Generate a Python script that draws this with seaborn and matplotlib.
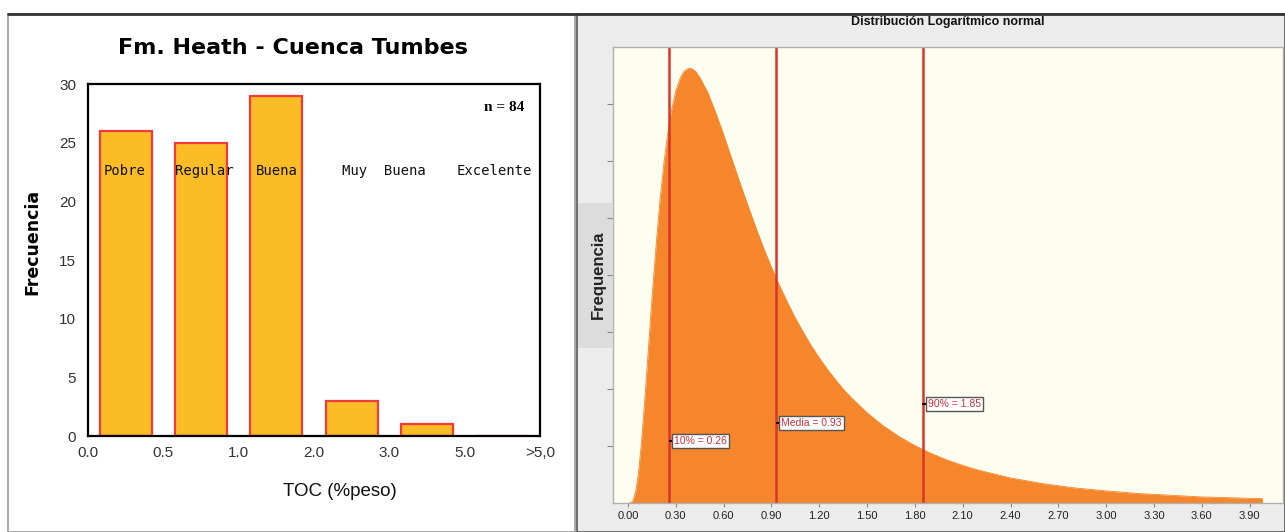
import numpy as np
import pandas as pd
import seaborn as sns
import matplotlib.pyplot as plt
from matplotlib.patches import Rectangle

# --- datos del histograma de TOC (Fm. Heath) ---
toc_bins = ["0.0-0.5", "0.5-1.0", "1.0-2.0", "2.0-3.0", "3.0-5.0", ">5.0"]
toc_freq = [26, 25, 29, 3, 1, 0]
edge_labels = ["0.0", "0.5", "1.0", "2.0", "3.0", "5.0", ">5,0"]
clases = ["Pobre", "Regular", "Buena", "Muy  Buena", "Excelente"]
n_muestras = 84

# --- curva logaritmico normal (frecuencia relativa) ---
logn_x = [0.01, 0.03, 0.05, 0.065, 0.08, 0.09, 0.10, 0.115, 0.13, 0.145, 0.16,
          0.18, 0.20, 0.225, 0.25, 0.27, 0.30, 0.33, 0.35, 0.375, 0.40, 0.425,
          0.45, 0.50, 0.55, 0.60, 0.65, 0.70, 0.75, 0.80, 0.85, 0.90, 0.95,
          1.00, 1.05, 1.10, 1.15, 1.20, 1.25, 1.30, 1.35, 1.40, 1.50, 1.60,
          1.70, 1.80, 1.90, 2.00, 2.10, 2.20, 2.30, 2.40, 2.60, 2.80, 3.00,
          3.20, 3.40, 3.60, 3.80, 3.98]
logn_y = [0.0, 0.004, 0.029, 0.068, 0.122, 0.166, 0.213, 0.289, 0.367, 0.446,
          0.520, 0.613, 0.698, 0.786, 0.858, 0.904, 0.955, 0.986, 0.999, 1.006,
          1.006, 0.999, 0.986, 0.951, 0.904, 0.853, 0.798, 0.744, 0.691, 0.640,
          0.591, 0.546, 0.504, 0.465, 0.428, 0.395, 0.364, 0.336, 0.310, 0.286,
          0.264, 0.244, 0.209, 0.179, 0.154, 0.133, 0.115, 0.100, 0.087, 0.076,
          0.067, 0.058, 0.045, 0.035, 0.028, 0.022, 0.018, 0.014, 0.012, 0.010]
marcas = ["10% = 0.26", "Media = 0.93", "90% = 1.85"]
marcas_val = [0.26, 0.93, 1.85]
right_ticks = ["0.00", "0.30", "0.60", "0.90", "1.20", "1.50", "1.80", "2.10",
               "2.40", "2.70", "3.00", "3.30", "3.60", "3.90"]

sns.set_style("white")
plt.rcParams["font.family"] = ["Liberation Sans", "DejaVu Sans"]
plt.rcParams["text.color"] = "black"
NARROW = ["Liberation Sans Narrow", "Liberation Sans"]

W, H = 1285, 532
fig = plt.figure(figsize=(W / 100, H / 100), dpi=100)

# marcos de fondo (detras de los ejes)
fig.patches.append(Rectangle((8 / W, 0), (575 - 8) / W, 1 - 14 / H, transform=fig.transFigure,
                             facecolor="white", edgecolor="#9a9a9a", lw=1.2, zorder=-3))
fig.patches.append(Rectangle((577 / W, 0), (W - 577) / W, 1 - 14 / H, transform=fig.transFigure,
                             facecolor="#ececec", edgecolor="#555555", lw=1.2, zorder=-3))
fig.patches.append(Rectangle((578 / W, 1 - 348 / H), (612 - 578) / W, (348 - 203) / H,
                             transform=fig.transFigure, facecolor="#dcdcdc",
                             edgecolor="none", zorder=-2))
fig.add_artist(plt.Line2D([8 / W, 1], [1 - 14 / H] * 2, color="#333333", lw=2, zorder=-1))

# ---------------- panel izquierdo ----------------
ax1 = fig.add_axes([88 / W, 1 - 436 / H, (540 - 88) / W, (436 - 84) / H])
df_toc = pd.DataFrame({"bin": toc_bins, "freq": toc_freq})
sns.barplot(data=df_toc, x="bin", y="freq", order=toc_bins, color="#fcbc26",
            saturation=1, edgecolor="#f23a3a", linewidth=1.6, width=0.69, ax=ax1)
ax1.set_xlim(-0.5, len(toc_bins) - 0.5)
ax1.set_ylim(0, 30)
ax1.set_yticks(range(0, 31, 5))
ax1.set_xticks(np.arange(len(edge_labels)) - 0.5)
ax1.set_xticklabels(edge_labels)
ax1.tick_params(axis="both", labelsize=11, labelcolor="#333333", length=5,
                width=1.2, color="black")
ax1.tick_params(axis="x", direction="inout", length=7)
for s in ax1.spines.values():
    s.set_color("black")
    s.set_linewidth(1.6)
    s.set_visible(True)
ax1.set_xlabel("TOC (%peso)", fontsize=13.5, color="#111111")
ax1.set_ylabel("Frecuencia", fontsize=12.5, fontweight="bold",
               family=["DejaVu Sans"], color="black")
ax1.xaxis.set_label_coords((340 - 88) / (540 - 88), -(483 - 436) / (436 - 84))
ax1.yaxis.set_label_coords(-(88 - 41) / (540 - 88), 0.55)

clase_x = [-0.02, 1.05, 2.01, 3.43, 4.9]
for txt, xx in zip(clases, clase_x):
    ax1.text(xx, 22.6, txt, ha="center", va="center", fontsize=10,
             family=["DejaVu Sans Mono"], color="#111111")
ax1.text(5.03, 28.0, f"n = {n_muestras}", ha="center", va="center", fontsize=11,
         fontweight="bold", family=["Liberation Serif"])
fig.text(293 / W, 1 - 48 / H, "Fm. Heath - Cuenca Tumbes", ha="center", va="center",
         fontsize=16, fontweight="bold", family=["DejaVu Sans"], color="black")

# ---------------- panel derecho ----------------
ax2 = fig.add_axes([613 / W, 1 - 503 / H, (1283 - 613) / W, (503 - 47) / H])
ax2.set_facecolor("#fdfdf0")
df_logn = pd.DataFrame({"x": logn_x, "y": logn_y})
ax2.fill_between(df_logn["x"], df_logn["y"], color="#f5862b", lw=0)
sns.lineplot(data=df_logn, x="x", y="y", color="#f5862b", lw=0.6, ax=ax2)
ymax = 1.056
ax2.set_xlim(-0.094, 4.109)
ax2.set_ylim(0, ymax)

marca_y = [0.1436, 0.185, 0.229]
for txt, xv, yv in zip(marcas, marcas_val, marca_y):
    ax2.axvline(xv, color="#d8362a", lw=1.8)
    ax2.plot([xv + 0.003, xv + 0.025], [yv, yv], color="black", lw=1.5)
    ax2.text(xv + 0.03, yv, txt, ha="left", va="center", fontsize=7.5,
             color="#d0303a", family=NARROW,
             bbox=dict(boxstyle="square,pad=0.2", facecolor="white",
                       edgecolor="#555555", lw=1))

ax2.set_xticks([float(t) for t in right_ticks])
ax2.set_xticklabels(right_ticks)
ax2.set_yticks(np.arange(1, 8) * 0.132)
ax2.set_yticklabels([])
ax2.tick_params(axis="x", labelsize=8, labelcolor="#222222", length=3,
                color="#888888", pad=3, bottom=True)
ax2.tick_params(axis="y", length=4, color="#888888", left=True)
for lbl in ax2.get_xticklabels():
    lbl.set_family(NARROW)
for s in ax2.spines.values():
    s.set_color("#b0b0b0")
    s.set_linewidth(1)
    s.set_visible(True)
ax2.set_xlabel("")
ax2.set_ylabel("Frequencia", fontsize=12, color="#222222", fontweight="bold")
ax2.yaxis.set_label_coords(-(613 - 606) / (1283 - 613), (503 - 275) / (503 - 47))

fig.text(948 / W, 1 - 22 / H, "Distribución Logarítmico normal", ha="center",
         va="center", fontsize=9, fontweight="bold", family=NARROW, color="#111111")

fig.savefig("out.png", dpi=100)
